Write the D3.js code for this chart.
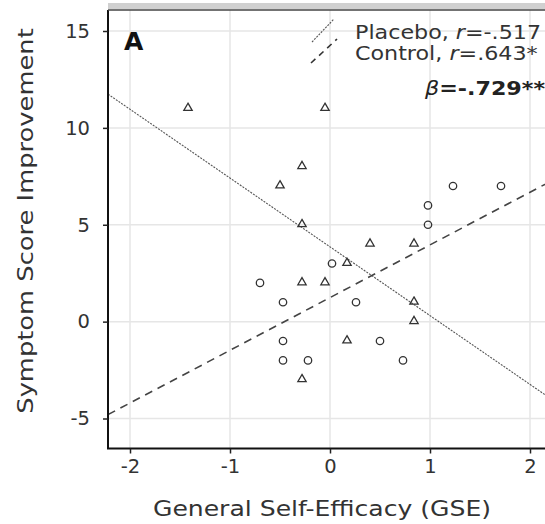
<!DOCTYPE html>
<html><head><meta charset="utf-8">
<script src="https://cdn.jsdelivr.net/npm/d3@7"></script>
<style>body{margin:0;background:#fff}svg{display:block}text{font-family:"DejaVu Sans",Verdana,sans-serif}</style>
</head><body>
<svg id="c" width="545" height="524"></svg>
<script>
const xTicks = [-2, -1, 0, 1, 2];
const yTicks = [-5, 0, 5, 10, 15];
const placeboX = [-1.42, -0.05, -0.28, -0.5, -0.28, 0.40, 0.84, 0.17, -0.28, -0.05, 0.84, 0.84, 0.17, -0.28];
const placeboY = [11, 11, 8, 7, 5, 4, 4, 3, 2, 2, 1, 0, -1, -3];
const controlX = [1.23, 1.71, 0.98, 0.98, 0.02, -0.70, -0.47, 0.26, -0.47, 0.50, -0.47, -0.22, 0.73];
const controlY = [7, 7, 6, 5, 3, 2, 1, 1, -1, -1, -2, -2, -2];
const placeboFit = [3.86, -3.55];   // intercept, slope
const controlFit = [1.24, 2.72];
const legendLabels = [["Placebo, ", "r", "=-.517"], ["Control, ", "r", "=.643*"]];
const betaLabel = ["β", "=-.729**"];
const panelLabel = "A";

const svg = d3.select("#c");
const L = 108, T = 10, B = 448.5, R = 560;
const x = d3.scaleLinear().domain([-2, 2]).range([130, 530]);
const y = d3.scaleLinear().domain([-5, 15]).range([418.5, 31]);

svg.append("defs").append("clipPath").attr("id", "clip")
  .append("rect").attr("x", L).attr("y", T).attr("width", R - L).attr("height", B - T);

// top grey band
svg.append("rect").attr("x", L).attr("y", 3).attr("width", R - L).attr("height", 6).attr("fill", "#d0d0d0");

// grid
const g = svg.append("g").attr("clip-path", "url(#clip)");
g.selectAll(".gx").data(xTicks).join("line")
  .attr("x1", d => x(d)).attr("x2", d => x(d)).attr("y1", T).attr("y2", B)
  .attr("stroke", "#e6e6e6").attr("stroke-width", 1.5);
g.selectAll(".gy").data(yTicks).join("line")
  .attr("y1", d => y(d)).attr("y2", d => y(d)).attr("x1", L).attr("x2", R)
  .attr("stroke", "#e6e6e6").attr("stroke-width", 1.5);

// fit lines
const xd = x.invert(L), xe = x.invert(R);
const line = d3.line().x(d => x(d[0])).y(d => y(d[1]));
g.append("path").datum([[xd, placeboFit[0] + placeboFit[1] * xd], [xe, placeboFit[0] + placeboFit[1] * xe]])
  .attr("d", line).attr("stroke", "#555").attr("stroke-width", 1.1).attr("stroke-dasharray", "2,1.2").attr("fill", "none");
g.append("path").datum([[xd, controlFit[0] + controlFit[1] * xd], [xe, controlFit[0] + controlFit[1] * xe]])
  .attr("d", line).attr("stroke", "#444").attr("stroke-width", 1.6).attr("stroke-dasharray", "8,6").attr("fill", "none");

// points
const tri = d3.symbol().type(d3.symbolTriangle).size(30);
g.selectAll(".tri").data(placeboX.map((v, i) => [v, placeboY[i]])).join("path")
  .attr("d", tri).attr("transform", d => `translate(${x(d[0])},${y(d[1]) - 0.5})`)
  .attr("fill", "none").attr("stroke", "#333").attr("stroke-width", 1.3);
g.selectAll(".cir").data(controlX.map((v, i) => [v, controlY[i]])).join("circle")
  .attr("cx", d => x(d[0])).attr("cy", d => y(d[1])).attr("r", 3.7)
  .attr("fill", "none").attr("stroke", "#333").attr("stroke-width", 1.3);

// axes
svg.append("line").attr("x1", L).attr("x2", L).attr("y1", T).attr("y2", B).attr("stroke", "#111").attr("stroke-width", 2);
svg.append("line").attr("x1", L).attr("x2", R).attr("y1", T).attr("y2", T).attr("stroke", "#444").attr("stroke-width", 1.5);
svg.append("line").attr("x1", L - 1).attr("x2", R).attr("y1", B).attr("y2", B).attr("stroke", "#111").attr("stroke-width", 2);

const yAxis = svg.append("g").attr("transform", `translate(${L},0)`)
  .call(d3.axisLeft(y).tickValues(yTicks).tickSize(5).tickPadding(13).tickFormat(d3.format("d")));
const xAxis = svg.append("g").attr("transform", `translate(0,${B})`)
  .call(d3.axisBottom(x).tickValues(xTicks).tickSize(5).tickPadding(6).tickFormat(d3.format("d")));
[yAxis, xAxis].forEach(a => {
  a.select(".domain").remove();
  a.selectAll(".tick line").attr("stroke", "#222").attr("stroke-width", 1.5);
  a.selectAll(".tick text").attr("font-size", 19.5).attr("fill", "#333").attr("font-family", "DejaVu Sans");
});
xAxis.selectAll(".tick text").text(d => d < 0 ? "-" + Math.abs(d) : d);
yAxis.selectAll(".tick text").text(d => d < 0 ? "-" + Math.abs(d) : d);

// titles (horizontally stretched to match the wide reference face)
svg.append("g").attr("transform", "translate(322,516) scale(1.14,1)")
  .append("text").attr("text-anchor", "middle")
  .attr("font-size", 22).attr("fill", "#333").text("General Self-Efficacy (GSE)");
svg.append("g").attr("transform", "translate(33,221) rotate(-90) scale(1.17,1)")
  .append("text").attr("text-anchor", "middle")
  .attr("font-size", 22).attr("fill", "#333").text("Symptom Score Improvement");

// panel label
svg.append("text").attr("x", 124).attr("y", 50).attr("font-size", 25).attr("font-weight", "bold").attr("fill", "#111").text(panelLabel);

// legend
svg.append("line").attr("x1", 312).attr("y1", 42).attr("x2", 334).attr("y2", 19).attr("stroke", "#555").attr("stroke-width", 1.1).attr("stroke-dasharray", "2,1.2");
svg.append("line").attr("x1", 311).attr("y1", 63).attr("x2", 337).attr("y2", 39).attr("stroke", "#333").attr("stroke-width", 1.6).attr("stroke-dasharray", "6,5");
legendLabels.forEach((lab, i) => {
  const t = svg.append("g").attr("transform", `translate(355,${38.5 + i * 21}) scale(1.17,1)`)
    .append("text").attr("font-size", 19).attr("fill", "#333");
  t.append("tspan").text(lab[0]);
  t.append("tspan").attr("font-style", "italic").text(lab[1]);
  t.append("tspan").text(lab[2]);
});
const bt = svg.append("g").attr("transform", "translate(425,95) scale(1.17,1)")
  .append("text").attr("font-size", 19).attr("font-weight", "bold").attr("fill", "#222");
bt.append("tspan").attr("font-style", "italic").attr("font-weight", "normal").text(betaLabel[0]);
bt.append("tspan").text(betaLabel[1]);
</script>
</body></html>
